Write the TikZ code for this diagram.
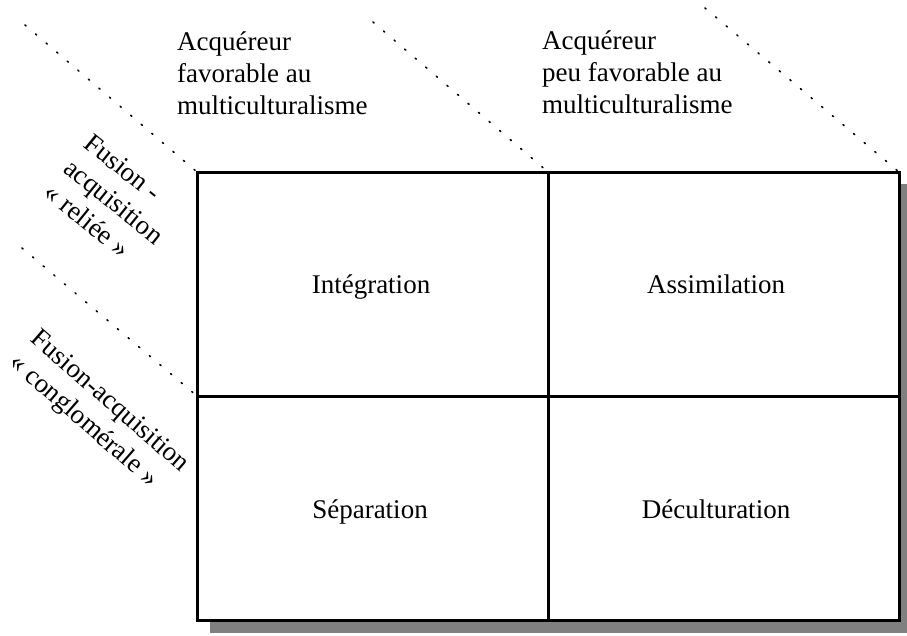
\documentclass[tikz,border=0pt]{standalone}
\usepackage{fontspec}
\setmainfont{Liberation Serif}
\definecolor{shadowgray}{gray}{0.5}
\begin{document}
\begin{tikzpicture}[x=1pt,y=-1pt,
  lbl/.style={font=\fontsize{27}{32}\selectfont, inner sep=0pt},
  cell/.style={lbl, anchor=base},
  hdr/.style={lbl, align=left, anchor=north west},
  sidelbl/.style={lbl, align=left, anchor=north west},
  dotline/.style={line width=1.6pt, dash pattern=on 1.4pt off 12.5pt, line cap=round},
  frame/.style={line width=3pt}]
\useasboundingbox (0,0) rectangle (907,635);
% box corners
\coordinate (tl) at (197,172);
\coordinate (tr) at (899,172);
\coordinate (bl) at (197,620);
\coordinate (br) at (899,620);
\coordinate (tm) at (548,172);
\coordinate (bm) at (548,620);
\coordinate (lm) at (197,396);
\coordinate (rm) at (899,396);
% dotted line starts
\coordinate (d1) at (25,25);
\coordinate (d2) at (22,248);
\coordinate (d3) at (373,22);
\coordinate (d4) at (705,8);
% shadow
\fill[shadowgray] (210,184) rectangle (907,633);
% grid
\draw[frame, fill=white] (tl) rectangle (br);
\draw[frame] (tm) -- (bm);
\draw[frame] (lm) -- (rm);
% dotted diagonals
\draw[dotline] (d1) -- (tl);
\draw[dotline] (d2) -- (lm);
\draw[dotline] (d3) -- (tm);
\draw[dotline] (d4) -- (tr);
% headers
\node[hdr] (h1) at (177,32) {Acquéreur\\favorable au\\multiculturalisme};
\node[hdr] (h2) at (542,31) {Acquéreur\\peu favorable au\\multiculturalisme};
% side labels
\node[sidelbl, rotate=-39] (s1) at (94,132) {Fusion -\\acquisition\\«~reliée~»};
\node[sidelbl, rotate=-41] (s2) at (41,327) {Fusion-acquisition\\«~conglomérale~»};
% cells
\node[cell] (c1) at (371,293) {Intégration};
\node[cell] (c2) at (716,293) {Assimilation};
\node[cell] (c3) at (370,518) {Séparation};
\node[cell] (c4) at (716,518) {Déculturation};
\end{tikzpicture}
\end{document}
